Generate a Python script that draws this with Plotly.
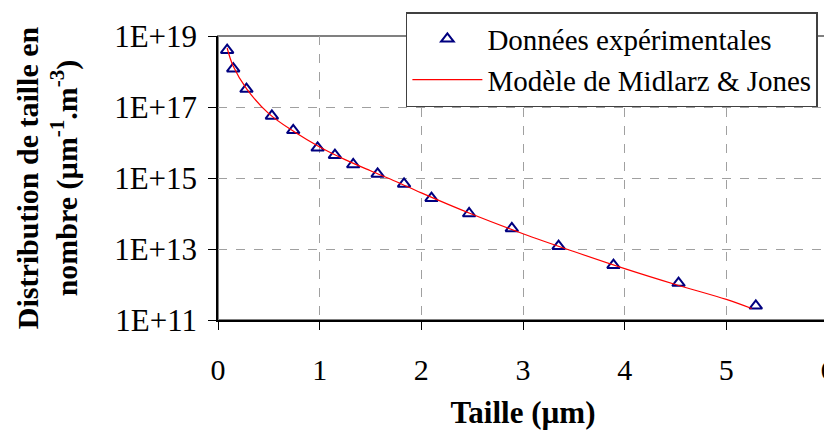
import plotly.graph_objects as go

taille_exp = [0.09, 0.15, 0.28, 0.53, 0.74, 0.98, 1.15, 1.33, 1.57,
              1.83, 2.10, 2.47, 2.89, 3.35, 3.89, 4.53, 5.29]
distrib_exp = [4.0e18, 1.2e18, 3.2e17, 5.6e16, 2.2e16, 7.1e15, 4.4e15, 2.4e15, 1.3e15,
               6.8e14, 2.7e14, 1.0e14, 3.8e13, 1.2e13, 3.5e12, 1.1e12, 2.5e11]

# Midlarz & Jones model curve
taille_mod = [0.09, 0.15, 0.28, 0.5, 0.75, 1.0, 1.25, 1.5, 1.75, 2.0,
              2.5, 3.0, 3.5, 4.0, 4.5, 5.0, 5.25]
distrib_mod = [4.6e18, 1.4e18, 3.3e17, 6.5e16, 2.0e16, 7.5e15, 3.3e15, 1.6e15, 8.0e14, 3.8e14,
               9.5e13, 2.7e13, 8.5e12, 2.8e12, 1.0e12, 3.8e11, 2.1e11]

yticks = [1e11, 1e13, 1e15, 1e17, 1e19]
yticklabels = ["1E+11", "1E+13", "1E+15", "1E+17", "1E+19"]

serif = "'Liberation Serif', 'DejaVu Serif', serif"

fig = go.Figure()
fig.add_trace(go.Scatter(
    x=taille_exp, y=distrib_exp, mode="markers",
    name="Données expérimentales",
    marker=dict(symbol="triangle-up-open", size=11, color="#000080",
                line=dict(width=2, color="#000080")),
))
fig.add_trace(go.Scatter(
    x=taille_mod, y=distrib_mod, mode="lines",
    name="Modèle de Midlarz & Jones",
    line=dict(color="#ff0000", width=1.2, shape="spline"),
))

# grey plot-area frame (top / right)
fig.add_shape(type="rect", xref="paper", yref="paper", x0=0, y0=0, x1=1, y1=1,
              line=dict(color="#808080", width=2), layer="below")

# page body adds an 8px offset, so figure is 824x427
fig.update_layout(
    width=824, height=427,
    margin=dict(l=210, r=4, t=28, b=115, autoexpand=False),
    paper_bgcolor="white", plot_bgcolor="white",
    font=dict(family=serif, size=29, color="black"),
    showlegend=True,
    legend=dict(x=0.308, y=1.0845, xanchor="left", yanchor="top",
                bgcolor="white", bordercolor="#404040", borderwidth=1.5,
                font=dict(family=serif, size=29), itemwidth=70, tracegroupgap=0),
    xaxis=dict(range=[0, 6], dtick=1, tick0=0, showgrid=True,
               gridcolor="#a0a0a0", griddash="dash", gridwidth=1,
               showline=True, linecolor="black", linewidth=1.5,
               ticks="outside", ticklen=8, tickcolor="black",
               ticklabeloverflow="allow", ticklabelstandoff=14, zeroline=False,
               automargin=False, tickfont=dict(family=serif, size=30),
               title=dict(text="<b>Taille (µm)</b>", font=dict(family=serif, size=31), standoff=17)),
    yaxis=dict(type="log", range=[11, 19], tickvals=yticks, ticktext=yticklabels,
               showgrid=True, gridcolor="#a0a0a0", griddash="dash", gridwidth=1,
               showline=True, linecolor="black", linewidth=1.5,
               ticks="outside", ticklen=8, tickcolor="black", ticklabelstandoff=5,
               zeroline=False, automargin=False, tickfont=dict(family=serif, size=31),
               title=dict(text="<b>Distribution de taille en<br>nombre (µm<sup>-1</sup>.m<sup>-3</sup>)</b>",
                          font=dict(family=serif, size=30), standoff=28)),
)

fig.write_html("out.html")
